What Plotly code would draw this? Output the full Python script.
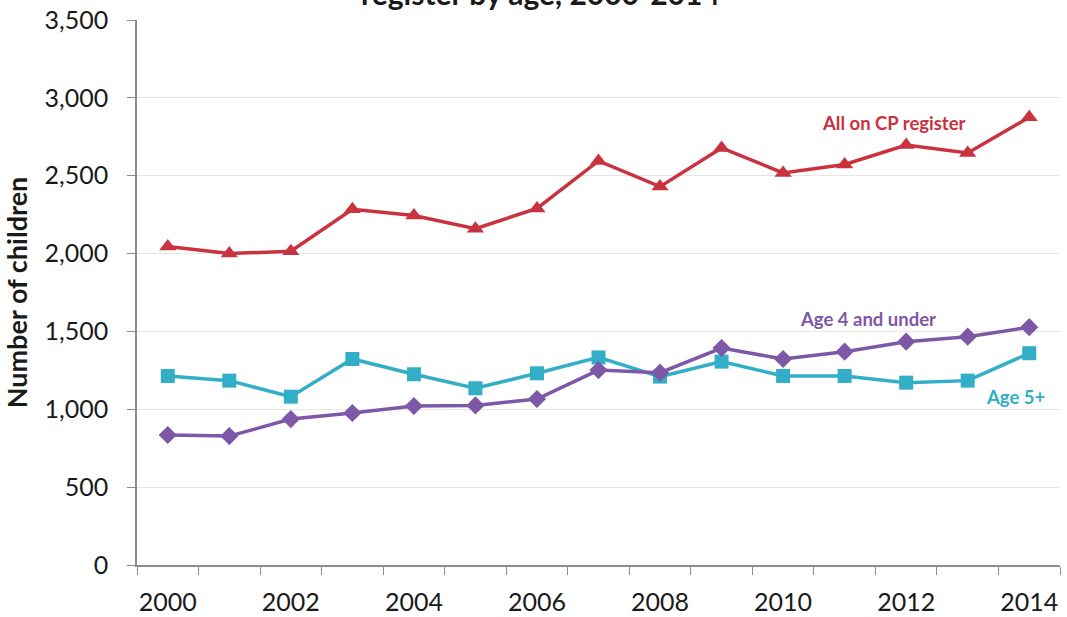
import plotly.graph_objects as go

years = list(range(2000, 2015))
all_cp = [2045, 2000, 2015, 2285, 2245, 2160, 2290, 2595, 2430, 2678, 2518, 2572, 2697, 2646, 2875]
age4_under = [835, 828, 937, 976, 1021, 1025, 1066, 1252, 1235, 1393, 1323, 1370, 1434, 1466, 1527]
age5_plus = [1214, 1184, 1081, 1323, 1225, 1135, 1231, 1333, 1210, 1306, 1214, 1214, 1171, 1184, 1360]

tick_years = [2000, 2002, 2004, 2006, 2008, 2010, 2012, 2014]
tick_labels = ["2000", "2002", "2004", "2006", "2008", "2010", "2012", "2014"]
boundaries = [y - 0.5 for y in years] + [years[-1] + 0.5]
y_ticks = [0, 500, 1000, 1500, 2000, 2500, 3000, 3500]
y_tick_labels = ["0", "500", "1,000", "1,500", "2,000", "2,500", "3,000", "3,500"]

RED = "#C9323F"
PURPLE = "#7D58A6"
TEAL = "#32AEC6"
FONT = "Lato"

fig = go.Figure()
fig.add_trace(go.Scatter(x=years, y=all_cp, mode="lines+markers", name="All on CP register",
                         line=dict(color=RED, width=3.5),
                         marker=dict(symbol="triangle-up", size=15, color=RED)))
fig.add_trace(go.Scatter(x=years, y=age5_plus, mode="lines+markers", name="Age 5+",
                         line=dict(color=TEAL, width=3.5),
                         marker=dict(symbol="square", size=14, color=TEAL)))
fig.add_trace(go.Scatter(x=years, y=age4_under, mode="lines+markers", name="Age 4 and under",
                         line=dict(color=PURPLE, width=3.5),
                         marker=dict(symbol="diamond", size=14, color=PURPLE)))

xr = [years[0] - 0.5, years[-1] + 0.5]
fig.update_layout(
    width=1067, height=617,
    margin=dict(l=137, r=7, t=20, b=52),
    paper_bgcolor="white", plot_bgcolor="white",
    showlegend=False,
    font=dict(family=FONT, color="#1a1a1a"),
    xaxis=dict(range=xr, tickmode="array", tickvals=boundaries, showticklabels=False,
               ticks="outside", ticklen=8, tickcolor="#8c8c8c", tickwidth=1, automargin=False,
               showline=True, linecolor="#8c8c8c", linewidth=1.5, showgrid=False, zeroline=False),
    xaxis2=dict(range=xr, overlaying="x", side="bottom", tickmode="array", automargin=False,
                tickvals=tick_years, ticktext=tick_labels, ticks="", showline=False,
                showgrid=False, zeroline=False, ticklabelstandoff=20,
                tickfont=dict(size=25, family=FONT, color="#1a1a1a")),
    yaxis=dict(range=[0, 3500], tickmode="array", tickvals=y_ticks, ticktext=y_tick_labels,
               ticks="outside", ticklen=8, tickcolor="#8c8c8c", ticklabelstandoff=14,
               showline=True, linecolor="#8c8c8c", linewidth=1.5, automargin=False,
               showgrid=True, gridcolor="#e6e6e6", gridwidth=1, zeroline=False,
               tickfont=dict(size=25, family=FONT, color="#1a1a1a"),
               title=dict(text="<b>Number of children</b>", standoff=20,
                          font=dict(size=27, family=FONT, color="#1a1a1a"))),
)
# helper trace so the label axis (xaxis2) renders
fig.add_trace(go.Scatter(x=[years[0]], y=[None], xaxis="x2", showlegend=False, hoverinfo="skip"))

fig.add_annotation(x=2011.8, y=2839, xref="x", yref="y", text="<b>All on CP register</b>",
                   showarrow=False, font=dict(size=18.5, color=RED, family=FONT))
fig.add_annotation(x=2011.38, y=1580, xref="x", yref="y", text="<b>Age 4 and under</b>",
                   showarrow=False, font=dict(size=18.5, color=PURPLE, family=FONT))
fig.add_annotation(x=2013.78, y=1079, xref="x", yref="y", text="<b>Age 5+</b>",
                   showarrow=False, font=dict(size=18.5, color=TEAL, family=FONT))
fig.add_annotation(x=0.437, y=1.0128, xref="paper", yref="paper", yanchor="bottom",
                   text="<b>register by age, 2000-2014</b>", showarrow=False,
                   font=dict(size=30, color="#1a1a1a", family=FONT))

fig.write_html("out.html")
